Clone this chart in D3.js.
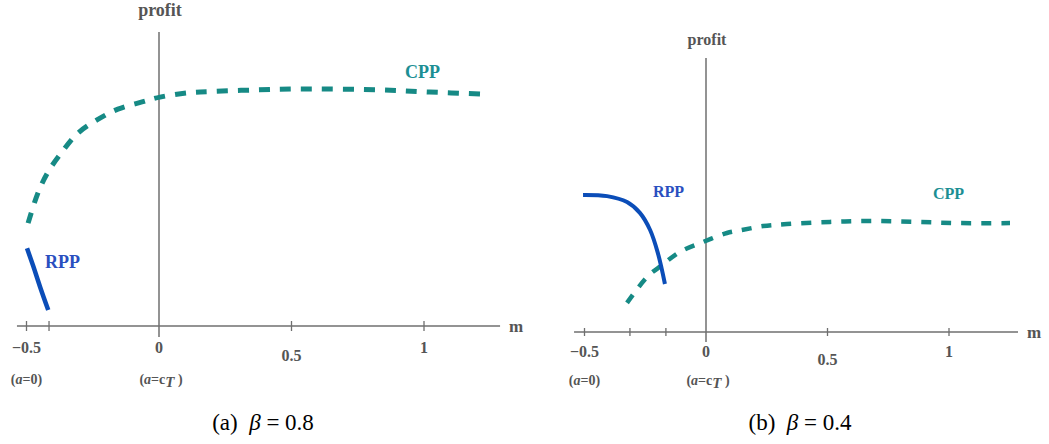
<!DOCTYPE html>
<html><head><meta charset="utf-8">
<script src="https://cdn.jsdelivr.net/npm/d3@7"></script>
<style>
body{margin:0;background:#fff;}
</style></head><body>
<svg id="c" width="1049" height="444"></svg>
<script>
// ---- data ----
const tickValues = [-0.5, 0, 0.5, 1];
const tickLabels = ["\u22120.5", "0", "0.5", "1"];
const extraTicksA = [-0.415];
const extraTicksB = [-0.313, -0.165];

// panel (a) beta = 0.8
const cppA_m = [-0.494,-0.457,-0.419,-0.366,-0.306,-0.234,-0.155,-0.064,0.004,0.106,0.204,0.37,0.53,0.834,1.02,1.22];
const cppA_p = [0.343,0.443,0.513,0.58,0.643,0.687,0.723,0.747,0.763,0.777,0.782,0.787,0.79,0.787,0.78,0.773];
const rppA_m = [-0.498,-0.474,-0.449,-0.418];
const rppA_p = [0.259,0.198,0.131,0.053];

// panel (b) beta = 0.4
const cppB_m = [-0.325,-0.243,-0.181,-0.107,-0.012,0.086,0.148,0.235,0.333,0.51,0.687,0.868,1.045,1.251];
const cppB_p = [0.097,0.183,0.223,0.267,0.30,0.33,0.34,0.353,0.36,0.367,0.37,0.367,0.363,0.363];
const rppB_m = [-0.506,-0.407,-0.325,-0.272,-0.23,-0.198,-0.169];
const rppB_p = [0.457,0.453,0.433,0.397,0.34,0.263,0.16];

const captions = ["(a)", "(b)"];
const betas = ["0.8", "0.4"];

// ---- drawing ----
const FONT = "'Liberation Serif', 'Times New Roman', serif";
const svg = d3.select("#c");
const TEAL = "#168a85", BLUE = "#0b4db8", GRAY = "#6f6f6f", LBL = "#555";

function txt(g){ return g.append("text").attr("font-family", FONT); }

function panel(cfg){
  const g = svg.append("g");
  const x = d3.scaleLinear().domain([-0.5, 1]).range(cfg.xr);
  const y = d3.scaleLinear().domain([0, 1]).range(cfg.yr);
  const y0 = y(0);
  g.append("line").attr("x1", x(cfg.xExt[0])).attr("x2", x(cfg.xExt[1]))
    .attr("y1", y0).attr("y2", y0).attr("stroke", GRAY).attr("stroke-width", 1.5);
  const allTicks = tickValues.filter(v => v !== 0).concat(cfg.extra);
  g.selectAll(".tk").data(allTicks).enter().append("line")
    .attr("x1", d => x(d)).attr("x2", d => x(d))
    .attr("y1", y0 - cfg.tk).attr("y2", y0 + cfg.tk)
    .attr("stroke", GRAY).attr("stroke-width", 1.3);
  g.append("line").attr("x1", x(0)).attr("x2", x(0))
    .attr("y1", y(cfg.yTop)).attr("y2", y0 + cfg.vBelow)
    .attr("stroke", GRAY).attr("stroke-width", 1.5);
  g.selectAll(".tl").data(tickValues).enter().append("text").attr("font-family", FONT)
    .attr("x", d => x(d)).attr("y", d => y0 + (d === 0.5 ? cfg.lblDy + 8 : cfg.lblDy))
    .attr("text-anchor", "middle").attr("font-size", 16).attr("font-weight", "bold")
    .attr("fill", LBL).text((d, i) => tickLabels[i]);
  const t1 = txt(g).attr("x", x(-0.5)).attr("y", y0 + cfg.subDy)
    .attr("text-anchor", "middle").attr("font-size", 14).attr("font-weight", "bold").attr("fill", LBL);
  t1.append("tspan").text("(");
  t1.append("tspan").attr("font-style", "italic").text("a");
  t1.append("tspan").text("=0)");
  const t2 = txt(g).attr("x", x(0) + 2).attr("y", y0 + cfg.subDy)
    .attr("text-anchor", "middle").attr("font-size", 14).attr("font-weight", "bold").attr("fill", LBL);
  t2.append("tspan").text("(");
  t2.append("tspan").attr("font-style", "italic").text("a");
  t2.append("tspan").text("=c");
  t2.append("tspan").attr("font-style", "italic").attr("dy", 3).attr("font-size", 15).text("T");
  t2.append("tspan").attr("dy", -3).text(" )");
  txt(g).attr("x", x(cfg.xExt[1]) + 9).attr("y", y0 + 6)
    .attr("font-size", 17).attr("font-weight", "bold").attr("fill", LBL).text("m");
  txt(g).attr("x", x(0) + 1).attr("y", y(cfg.yTop) - cfg.profDy)
    .attr("text-anchor", "middle").attr("font-size", cfg.fs).attr("font-weight", "bold")
    .attr("fill", LBL).text("profit");
  const cpp = cfg.cppM.map((m, i) => [m, cfg.cppP[i]]);
  const rpp = cfg.rppM.map((m, i) => [m, cfg.rppP[i]]);
  const line = d3.line().x(d => x(d[0])).y(d => y(d[1])).curve(d3.curveCatmullRom);
  g.append("path").attr("d", line(cpp))
    .attr("fill", "none").attr("stroke", TEAL)
    .attr("stroke-width", cfg.cw).attr("stroke-dasharray", cfg.dash);
  g.append("path").attr("d", line(rpp))
    .attr("fill", "none").attr("stroke", BLUE)
    .attr("stroke-width", cfg.rw).attr("stroke-linecap", "butt");
  txt(g).attr("x", cfg.rppLbl[0]).attr("y", cfg.rppLbl[1])
    .attr("font-size", cfg.fs).attr("font-weight", "bold").attr("fill", "#2a4fc0").text("RPP");
  txt(g).attr("x", cfg.cppLbl[0]).attr("y", cfg.cppLbl[1])
    .attr("font-size", cfg.fs).attr("font-weight", "bold").attr("fill", "#1c8f94").text("CPP");
  const cap = txt(svg).attr("x", cfg.capX).attr("y", 430)
    .attr("text-anchor", "middle").attr("font-size", 23).attr("fill", "#000");
  cap.append("tspan").text(cfg.cap + "\u2002");
  cap.append("tspan").attr("font-style", "italic").text("\u03b2");
  cap.append("tspan").text(" = " + cfg.beta);
}

panel({xr:[26.5,424], yr:[326,26], xExt:[-0.536,1.287], yTop:0.98, vBelow:11, tk:5,
  extra:extraTicksA, lblDy:27, subDy:58, profDy:16, fs:18,
  cppM:cppA_m, cppP:cppA_p, rppM:rppA_m, rppP:rppA_p, cw:5, rw:4.5, dash:"11,10",
  rppLbl:[45,268], cppLbl:[405,78], capX:263, cap:captions[0], beta:betas[0]});
panel({xr:[584.5,949], yr:[332,32], xExt:[-0.543,1.284], yTop:0.913, vBelow:10, tk:4,
  extra:extraTicksB, lblDy:25, subDy:53, profDy:13, fs:16,
  cppM:cppB_m, cppP:cppB_p, rppM:rppB_m, rppP:rppB_p, cw:4.5, rw:4, dash:"10,10",
  rppLbl:[653,197], cppLbl:[933,199], capX:800, cap:captions[1], beta:betas[1]});
</script>
</body></html>
